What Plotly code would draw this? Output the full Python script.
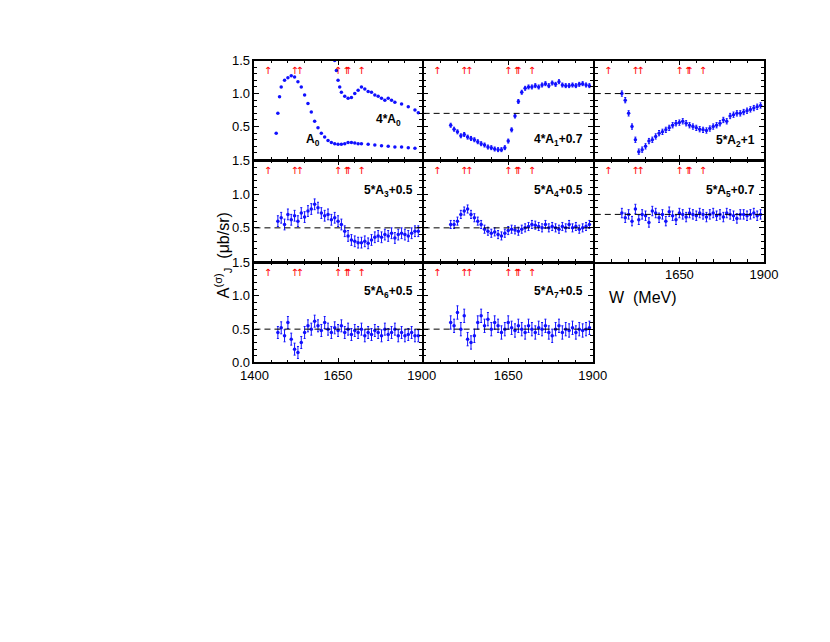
import plotly.graph_objects as go

W_A = list(range(1470, 1891, 10))   # 43
W_B = list(range(1480, 1891, 10))   # 42
W_A0 = [1465,1470,1475,1480,1490,1500,1510,1520,1530,1540,1550,1560,1570,1580,1590,1600,1610,1620,1630,1640,1650,1660,1670,1680,1690,1700,1710,1720,1740,1760,1780,1800,1820,1840,1860,1880]
A0 = [0.40,0.70,0.95,1.10,1.20,1.24,1.27,1.25,1.18,1.10,0.98,0.85,0.72,0.58,0.48,0.40,0.34,0.29,0.26,0.24,0.23,0.23,0.24,0.26,0.26,0.25,0.24,0.24,0.23,0.22,0.21,0.20,0.19,0.19,0.18,0.17]
W_4A0 = [1640,1645,1650,1655,1660,1670,1680,1690,1700,1710,1720,1730,1740,1750,1760,1770,1780,1790,1800,1810,1820,1840,1860,1880,1890]
A0x4 = [1.50,1.35,1.20,1.10,1.02,0.96,0.93,0.94,1.00,1.05,1.10,1.07,1.03,1.02,0.98,0.96,0.93,0.90,0.93,0.90,0.87,0.84,0.80,0.75,0.71]
A1 = [0.52,0.46,0.42,0.36,0.38,0.34,0.32,0.30,0.27,0.24,
      0.22,0.19,0.18,0.16,0.15,0.15,0.18,0.28,0.45,0.66,
      0.88,1.02,1.08,1.10,1.10,1.12,1.10,1.13,1.15,1.12,
      1.16,1.14,1.18,1.13,1.12,1.12,1.13,1.12,1.14,1.15,
      1.13,1.12]
A2 = [1.00,0.90,0.70,0.50,0.30,0.12,0.15,0.20,0.28,0.30,
      0.35,0.40,0.42,0.45,0.48,0.52,0.55,0.56,0.58,0.55,
      0.52,0.50,0.48,0.46,0.45,0.44,0.47,0.50,0.52,0.55,
      0.60,0.58,0.66,0.68,0.70,0.70,0.72,0.74,0.76,0.78,
      0.80,0.82]
A3 = [0.60,0.65,0.55,0.70,0.62,0.68,0.60,0.72,0.66,0.75,
      0.78,0.85,0.80,0.72,0.68,0.70,0.62,0.65,0.60,0.55,
      0.45,0.38,0.32,0.30,0.28,0.28,0.30,0.27,0.32,0.36,
      0.38,0.36,0.40,0.38,0.42,0.35,0.40,0.42,0.40,0.38,
      0.42,0.45,0.45]
A4 = [0.55,0.55,0.60,0.70,0.75,0.78,0.70,0.65,0.60,0.55,
      0.48,0.45,0.42,0.44,0.40,0.38,0.42,0.46,0.48,0.47,
      0.45,0.48,0.50,0.52,0.55,0.54,0.52,0.50,0.55,0.50,
      0.52,0.50,0.48,0.52,0.50,0.55,0.50,0.52,0.48,0.50,
      0.52,0.55]
A5 = [0.72,0.65,0.70,0.60,0.78,0.62,0.70,0.68,0.58,0.75,
      0.72,0.65,0.70,0.60,0.74,0.68,0.62,0.72,0.70,0.66,
      0.72,0.70,0.68,0.72,0.70,0.66,0.70,0.72,0.68,0.70,
      0.66,0.72,0.70,0.68,0.64,0.70,0.70,0.68,0.70,0.72,
      0.68,0.70]
A6 = [0.45,0.52,0.40,0.60,0.35,0.20,0.15,0.30,0.45,0.55,
      0.50,0.62,0.55,0.48,0.60,0.50,0.45,0.52,0.48,0.55,
      0.45,0.50,0.42,0.48,0.45,0.50,0.40,0.45,0.42,0.48,
      0.45,0.40,0.50,0.42,0.45,0.50,0.40,0.45,0.40,0.42,
      0.45,0.40,0.40]
A7 = [0.60,0.55,0.75,0.50,0.70,0.35,0.30,0.40,0.60,0.70,
      0.55,0.65,0.50,0.60,0.55,0.45,0.50,0.60,0.52,0.48,
      0.55,0.50,0.45,0.55,0.50,0.45,0.52,0.50,0.55,0.45,
      0.40,0.50,0.55,0.45,0.50,0.48,0.52,0.45,0.50,0.48,
      0.50,0.52]
RES = [1440, 1520, 1535, 1650, 1675, 1680, 1720]

BLUE = "#1010ff"

def px(p):  # target pixel x -> paper
    return ((p - 19.4) / 0.971) / 830

def py(p):  # target pixel y -> paper
    return 1 - ((p - 14.4) / 0.977) / 642

colx = [(px(253), px(421)), (px(423), px(593)), (px(595), px(765))]
rowy = [(py(159), py(60)), (py(261), py(160)), (py(362), py(262))]
panels = [
    (0, 0, [(W_A0, A0, 0), (W_4A0, A0x4, 0)], None, [("<b>4*A<sub>0</sub></b>", 1800, 0.6), ("<b>A<sub>0</sub></b>", 1575, 0.3)], True, False),
    (0, 1, [(W_B, A1, 0.03)], 0.7, [("<b>4*A<sub>1</sub>+0.7</b>", 1800, 0.3)], False, False),
    (0, 2, [(W_B, A2, 0.04)], 1.0, [("<b>5*A<sub>2</sub>+1</b>", 1815, 0.28)], False, False),
    (1, 0, [(W_A, A3, 0.08)], 0.5, [("<b>5*A<sub>3</sub>+0.5</b>", 1800, 1.05)], True, False),
    (1, 1, [(W_B, A4, 0.06)], 0.5, [("<b>5*A<sub>4</sub>+0.5</b>", 1800, 1.05)], False, False),
    (1, 2, [(W_B, A5, 0.07)], 0.7, [("<b>5*A<sub>5</sub>+0.7</b>", 1800, 1.05)], False, True),
    (2, 0, [(W_A, A6, 0.09)], 0.5, [("<b>5*A<sub>6</sub>+0.5</b>", 1800, 1.05)], True, True),
    (2, 1, [(W_B, A7, 0.10)], 0.5, [("<b>5*A<sub>7</sub>+0.5</b>", 1800, 1.05)], False, True),
]
fig = go.Figure()
F = "Liberation Sans"
for i, (r, c, series, dash, labels, ylab, xlab) in enumerate(panels):
    n = i + 1
    xa, ya = f"x{n}", f"y{n}"
    for (wx, vy, e) in series:
        fig.add_trace(go.Scatter(x=wx, y=vy, mode="markers", xaxis=xa, yaxis=ya,
                                 marker=dict(color=BLUE, size=3.5),
                                 error_y=dict(type="constant", value=e, color=BLUE, thickness=1, width=1, visible=e > 0),
                                 showlegend=False))
    fig.add_trace(go.Scatter(x=RES, y=[1.34]*len(RES), mode="text", text=["↑"]*len(RES),
                             textfont=dict(color="red", size=10, family="DejaVu Sans"),
                             xaxis=xa, yaxis=ya, showlegend=False))
    if dash is not None:
        fig.add_trace(go.Scatter(x=[1400, 1900], y=[dash, dash], mode="lines", xaxis=xa, yaxis=ya,
                                 line=dict(color="black", width=1, dash="6px,4px"), showlegend=False))
    for (t, lx, ly) in labels:
        fig.add_annotation(x=lx, y=ly, xref=xa, yref=ya, text=t, showarrow=False,
                           font=dict(family=F, size=12, color="black"))
    xt = ([1400, 1650, 1900] if c == 0 else [1650, 1900]) if xlab else []
    yt = ([0, 0.5, 1.0, 1.5] if r == 2 else [0.5, 1.0, 1.5]) if ylab else []
    ax = dict(range=[1400, 1900], domain=list(colx[c]), anchor=ya, showgrid=False, zeroline=False,
              showline=True, linecolor="black", linewidth=1.5, mirror="ticks", ticks="inside",
              ticklen=5, tickcolor="black", tickvals=[1400, 1650, 1900],
              ticktext=[str(v) if v in xt else "" for v in [1400, 1650, 1900]],
              tickfont=dict(family=F, size=13, color="black"),
              minor=dict(ticks="inside", ticklen=3, dtick=50, tick0=1400, tickcolor="black"))
    ay = dict(range=[0, 1.5], domain=list(rowy[r]), anchor=xa, showgrid=False, zeroline=False,
              showline=True, linecolor="black", linewidth=1.5, mirror="ticks", ticks="inside",
              ticklen=5, tickcolor="black", tickvals=[0, 0.5, 1.0, 1.5],
              ticktext=[("%.1f" % v) if v in yt else "" for v in [0, 0.5, 1.0, 1.5]],
              tickfont=dict(family=F, size=13, color="black"),
              minor=dict(ticks="inside", ticklen=3, dtick=0.1, tick0=0, tickcolor="black"))
    fig.update_layout(**{f"xaxis{n}": ax, f"yaxis{n}": ay})

fig.add_annotation(x=px(208), y=py(210), xref="paper", yref="paper", text="A<sup>(σ)</sup><sub>J</sub>  (μb/sr)",
                   textangle=-90, showarrow=False, font=dict(family=F, size=16, color="black"))
fig.add_annotation(x=px(680), y=py(297), xref="paper", yref="paper", text="W  (MeV)",
                   showarrow=False, font=dict(family=F, size=16, color="black"))
fig.update_layout(width=830, height=642, margin=dict(l=0, r=0, t=0, b=0),
                  plot_bgcolor="white", paper_bgcolor="white")
fig.write_html("out.html")
